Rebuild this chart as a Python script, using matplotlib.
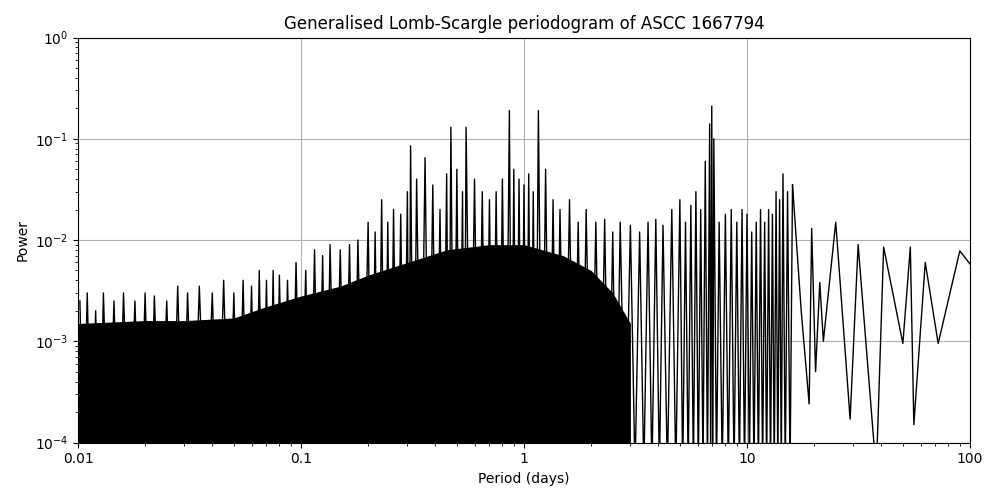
import matplotlib
matplotlib.use("Agg")
import matplotlib.pyplot as plt
import numpy as np

# Dense-forest envelope (typical level of the black mass)
env_period = [0.01, 0.02, 0.03, 0.05, 0.07, 0.1, 0.15, 0.2, 0.3, 0.45, 0.7, 1.0, 1.5, 2.0, 2.5, 3.0]
env_power  = [1.5e-3, 1.6e-3, 1.6e-3, 1.7e-3, 2.2e-3, 2.8e-3, 3.5e-3, 4.5e-3, 6e-3, 8e-3, 9e-3, 9e-3, 7e-3, 5e-3, 3e-3, 1.5e-3]

# Individual peaks (period in days, power)
peak_period = [0.0102, 0.011, 0.012, 0.013, 0.0145, 0.016, 0.018, 0.02, 0.022, 0.025, 0.028, 0.031, 0.035, 0.04, 0.045, 0.05,
               0.055, 0.06, 0.065, 0.07, 0.075, 0.08, 0.087, 0.095, 0.105, 0.115, 0.125, 0.135, 0.15, 0.165, 0.18, 0.2,
               0.215, 0.23, 0.245, 0.26, 0.28, 0.3, 0.31, 0.33, 0.36, 0.39, 0.42, 0.45, 0.47, 0.5, 0.53, 0.55, 0.6,
               0.65, 0.7, 0.75, 0.8, 0.86, 0.9, 0.95, 1.0, 1.05, 1.1, 1.16, 1.25, 1.35, 1.45, 1.6, 1.75, 1.9, 2.1,
               2.3, 2.5, 2.7, 3.0, 3.3, 3.6, 3.9, 4.2, 4.6, 5.0, 5.3, 5.6, 5.9, 6.2, 6.5, 6.8, 6.95, 7.1, 7.5, 8.0,
               8.5, 9.0, 9.5, 10.0, 10.5, 11.0, 11.5, 12.0, 12.5, 13.0, 13.5, 14.0, 14.5, 15.2, 16.0]
peak_power = [2.5e-3, 3e-3, 2e-3, 3e-3, 2.5e-3, 3e-3, 2.5e-3, 3e-3, 2.8e-3, 2.5e-3, 3.5e-3, 3e-3, 3.5e-3, 3e-3, 4e-3, 3e-3,
              4e-3, 3.5e-3, 5e-3, 4e-3, 5e-3, 4.5e-3, 4e-3, 6e-3, 5e-3, 8e-3, 7e-3, 9e-3, 8e-3, 9e-3, 1e-2, 1.5e-2,
              1.2e-2, 2.5e-2, 1.5e-2, 2e-2, 1.8e-2, 3e-2, 8.5e-2, 4e-2, 6.5e-2, 3.5e-2, 2e-2, 4.5e-2, 1.3e-1, 5e-2, 3e-2, 1.3e-1, 4e-2,
              3e-2, 2.5e-2, 3e-2, 4e-2, 1.9e-1, 5e-2, 4e-2, 3.5e-2, 4.5e-2, 3e-2, 1.9e-1, 5e-2, 2.5e-2, 2e-2, 2.5e-2, 1.5e-2, 2e-2, 1.5e-2,
              1.6e-2, 1.2e-2, 1.5e-2, 1.4e-2, 1.2e-2, 1.5e-2, 1.6e-2, 1.4e-2, 2e-2, 2.5e-2, 1.5e-2, 2.2e-2, 3e-2, 2e-2, 6e-2, 1.4e-1, 2.1e-1, 1e-1, 1.5e-2, 1.8e-2,
              2e-2, 1.5e-2, 2e-2, 1.8e-2, 1.2e-2, 1.5e-2, 2e-2, 1.5e-2, 2e-2, 1.8e-2, 3e-2, 2.5e-2, 4.5e-2, 3e-2, 3.5e-2]

# Smooth long-period part: alternating extrema
tail_period = [16.0, 17.5, 19.0, 19.5, 20.3, 21.2, 22.0, 25.0, 29.0, 31.5, 38.0, 41.0, 50.0, 54.0, 56.0, 63.0, 72.0, 90.0, 100.0]
tail_power  = [3.5e-2, 2e-3, 2.4e-4, 1.3e-2, 5e-4, 3.8e-3, 1e-3, 1.5e-2, 1.7e-4, 9e-3, 5e-5, 8.5e-3, 9.5e-4, 8.5e-3, 1.5e-4, 6e-3, 9.5e-4, 7.8e-3, 5.8e-3]

fig, ax = plt.subplots(figsize=(10, 5), dpi=100)
ax.set_axisbelow(True)
ax.fill_between(env_period, 1e-5, env_power, color='black', lw=0, zorder=2)
pp = np.array(peak_period)
troughs = np.sqrt(pp[:-1] * pp[1:])
xs, ys = [], []
for i in range(len(pp)):
    xs.append(pp[i]); ys.append(peak_power[i])
    if i < len(troughs):
        xs.append(troughs[i]); ys.append(5e-5)
ax.plot(xs, ys, color='black', lw=1, zorder=2)
ax.plot(tail_period, tail_power, color='black', lw=1, zorder=2)

ax.set_xscale('log'); ax.set_yscale('log')
ax.set_xlim(0.01, 100); ax.set_ylim(1e-4, 1)
ax.set_xticks([0.01, 0.1, 1, 10, 100])
ax.set_xticklabels(['0.01', '0.1', '1', '10', '100'])
ax.grid(True, which='major')
ax.set_xlabel('Period (days)')
ax.set_ylabel('Power')
ax.set_title('Generalised Lomb-Scargle periodogram of ASCC 1667794')
fig.subplots_adjust(left=0.078, right=0.97, top=0.925, bottom=0.115)
fig.savefig('out.png')
